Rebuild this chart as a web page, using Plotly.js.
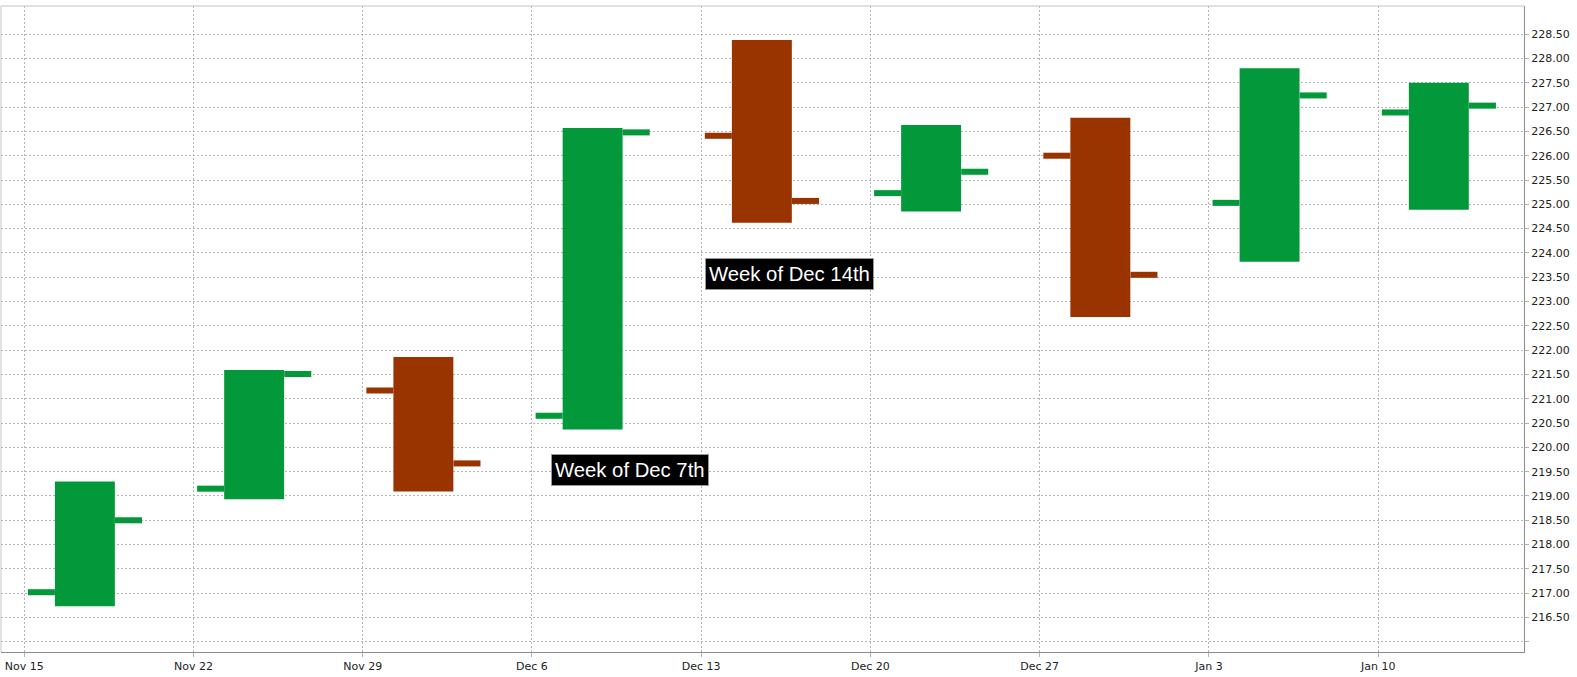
<!DOCTYPE html>
<html>
<head>
<meta charset="utf-8">
<script src="https://cdn.plot.ly/plotly-3.0.1.min.js"></script>
<style>
  html, body { margin: 0; padding: 0; background: #fff; }
  #myDiv { width: 1577px; height: 677px; }
</style>
</head>
<body>
<div id="myDiv"></div>
<script>
// weekly bars, week starting on the Monday
var weeks = ['2010-11-15', '2010-11-22', '2010-11-29', '2010-12-06', '2010-12-13',
             '2010-12-20', '2010-12-27', '2011-01-03', '2011-01-10'];
var opens  = [217.02, 219.15, 221.17, 220.65, 226.41, 225.23, 226.00, 225.03, 226.89];
var highs  = [219.30, 221.59, 221.86, 226.57, 228.38, 226.63, 226.78, 227.80, 227.50];
var lows   = [216.73, 218.93, 219.09, 220.37, 224.62, 224.85, 222.68, 223.82, 224.89];
var closes = [218.50, 221.51, 219.67, 226.48, 225.07, 225.67, 223.55, 227.24, 227.03];

var xTickVals = weeks;
var xTickText = ['Nov 15', 'Nov 22', 'Nov 29', 'Dec 6', 'Dec 13', 'Dec 20', 'Dec 27', 'Jan 3', 'Jan 10'];

var yTickVals = [216.0, 216.5, 217.0, 217.5, 218.0, 218.5, 219.0, 219.5, 220.0, 220.5, 221.0,
                 221.5, 222.0, 222.5, 223.0, 223.5, 224.0, 224.5, 225.0, 225.5, 226.0,
                 226.5, 227.0, 227.5, 228.0, 228.5];
var yTickText = ['', '216.50', '217.00', '217.50', '218.00', '218.50', '219.00', '219.50',
                 '220.00', '220.50', '221.00', '221.50', '222.00', '222.50', '223.00',
                 '223.50', '224.00', '224.50', '225.00', '225.50', '226.00', '226.50',
                 '227.00', '227.50', '228.00', '228.50'];

var UP = '#03993a', DOWN = '#993300';
var HOUR = 3600 * 1000;
var TICK_H = 0.124;   // thickness of open/close ticks, in price units

// shift a week start by some hours, returns a date string plotly likes
function shift(day, hours) {
  var t = new Date(day + 'T00:00:00Z').getTime() + hours * HOUR;
  return new Date(t).toISOString().slice(0, 19).replace('T', ' ');
}

var colors = opens.map(function (o, i) { return closes[i] >= o ? UP : DOWN; });

var body = {
  type: 'bar',
  x: weeks.map(function (d) { return shift(d, 60.2); }),
  base: lows,
  y: highs.map(function (h, i) { return h - lows[i]; }),
  width: weeks.map(function () { return 59.5 * HOUR; }),
  marker: { color: colors, line: { width: 0 } },
  hoverinfo: 'skip'
};

var openTick = {
  type: 'bar',
  x: weeks.map(function (d) { return shift(d, 17); }),
  base: opens.map(function (o) { return o - TICK_H / 2; }),
  y: opens.map(function () { return TICK_H; }),
  width: weeks.map(function () { return 26.8 * HOUR; }),
  marker: { color: colors, line: { width: 0 } },
  hoverinfo: 'skip'
};

var closeTick = {
  type: 'bar',
  x: weeks.map(function (d) { return shift(d, 103.5); }),
  base: closes.map(function (c) { return c - TICK_H / 2; }),
  y: closes.map(function () { return TICK_H; }),
  width: weeks.map(function () { return 26.8 * HOUR; }),
  marker: { color: colors, line: { width: 0 } },
  hoverinfo: 'skip'
};

var labelFont = { family: 'Liberation Sans, Arial, sans-serif', size: 20.3, color: '#fff' };

var layout = {
  width: 1577,
  height: 677,
  margin: { l: 1, r: 53, t: 6, b: 25 },
  paper_bgcolor: '#fff',
  plot_bgcolor: '#fff',
  showlegend: false,
  barmode: 'overlay',
  hovermode: false,
  font: { family: 'DejaVu Sans, Verdana, sans-serif', size: 11, color: '#222' },
  xaxis: {
    type: 'date',
    range: ['2010-11-14 00:55', '2011-01-16 00:45'],
    tickmode: 'array',
    tickvals: xTickVals,
    ticktext: xTickText,
    showgrid: true,
    gridcolor: '#b4b4b4',
    griddash: '2px,2px',
    gridwidth: 1,
    zeroline: false,
    showline: true,
    linecolor: '#8c8c8c',
    linewidth: 1,
    ticks: 'outside',
    ticklen: 4,
    tickcolor: '#b4b4b4',
    fixedrange: true
  },
  yaxis: {
    side: 'right',
    range: [215.79, 229.08],
    tickmode: 'array',
    tickvals: yTickVals,
    ticktext: yTickText,
    showgrid: true,
    gridcolor: '#b4b4b4',
    griddash: '2px,2px',
    gridwidth: 1,
    zeroline: false,
    showline: true,
    linecolor: '#8c8c8c',
    linewidth: 1,
    ticks: 'outside',
    ticklen: 4,
    tickcolor: '#b4b4b4',
    fixedrange: true
  },
  shapes: [
    // light frame on the top and left sides
    { type: 'line', xref: 'paper', yref: 'paper', x0: 0, x1: 1, y0: 1, y1: 1,
      line: { color: '#c4c4c4', width: 1 } },
    { type: 'line', xref: 'paper', yref: 'paper', x0: 0, x1: 0, y0: 0, y1: 1,
      line: { color: '#c4c4c4', width: 1 } }
  ],
  annotations: [
    { x: '2010-12-06 18:30', y: 219.86, xref: 'x', yref: 'y',
      xanchor: 'left', yanchor: 'top', showarrow: false,
      text: 'Week of Dec 7th', font: labelFont, height: 24,
      bgcolor: '#000', bordercolor: '#999', borderwidth: 1, borderpad: 3 },
    { x: '2010-12-13 03:40', y: 223.9, xref: 'x', yref: 'y',
      xanchor: 'left', yanchor: 'top', showarrow: false,
      text: 'Week of Dec 14th', font: labelFont, height: 24,
      bgcolor: '#000', bordercolor: '#999', borderwidth: 1, borderpad: 3 }
  ]
};

Plotly.newPlot('myDiv', [body, openTick, closeTick], layout, { displayModeBar: false, staticPlot: true });
</script>
</body>
</html>
